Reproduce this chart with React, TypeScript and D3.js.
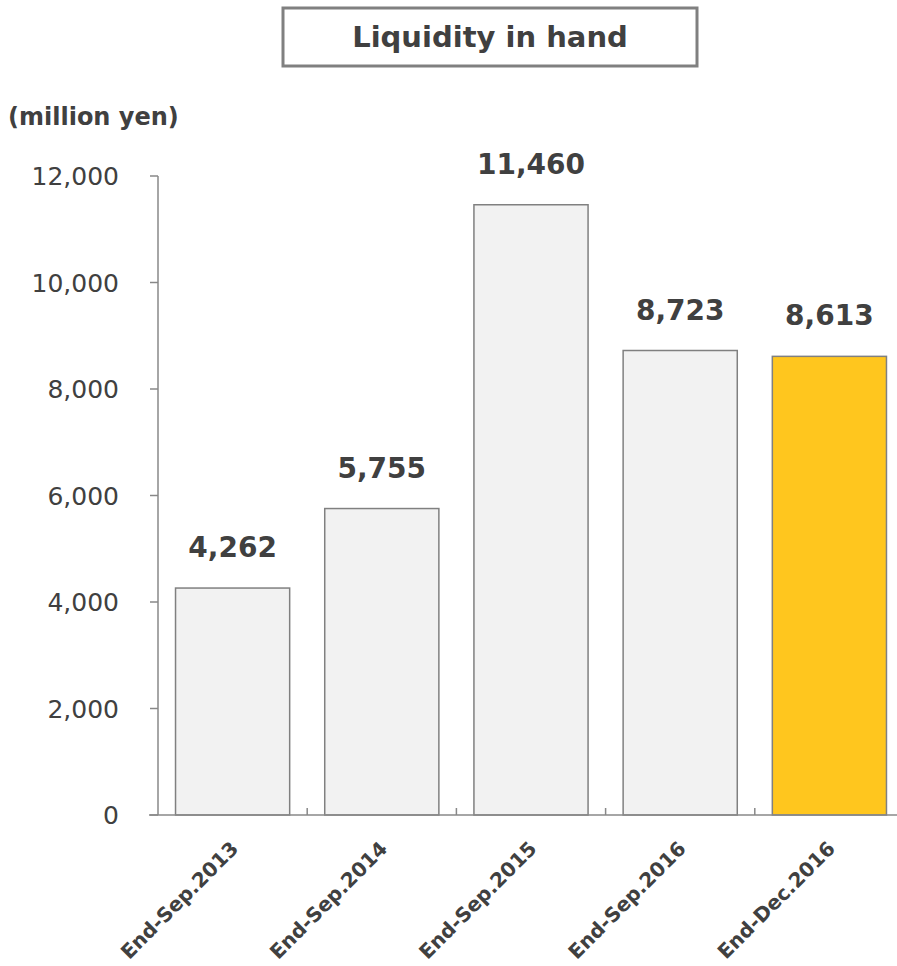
import React from "react";
import * as d3 from "d3";

const categories = ["End-Sep.2013", "End-Sep.2014", "End-Sep.2015", "End-Sep.2016", "End-Dec.2016"];
const values = [4262, 5755, 11460, 8723, 8613];
const yTicks = [0, 2000, 4000, 6000, 8000, 10000, 12000];
const title = "Liquidity in hand";
const unitLabel = "(million yen)";

const W = 897;
const H = 966;
const FONT = "'DejaVu Sans', Verdana, sans-serif";
const TEXT = "#404040";
const AXIS = "#888888";

export default function App() {
  const x = d3.scaleBand<string>().domain(categories).range([158, 904]).paddingInner(0.235).paddingOuter(0.1175);
  const y = d3.scaleLinear().domain([0, 12000]).range([815, 176]);
  const fmt = d3.format(",");
  const step = x.step();

  return (
    <svg width={W} height={H} style={{ position: "absolute", left: 0, top: 0, fontFamily: FONT }}>
      <rect x={0} y={0} width={W} height={H} fill="#fff" />
      {/* title */}
      <rect x={283} y={8} width={414} height={58} fill="#fff" stroke="#808080" strokeWidth={3} />
      <text x={490} y={47} textAnchor="middle" fontSize={29} fontWeight="bold" fill={TEXT}>{title}</text>
      <text x={8} y={125} fontSize={24} fontWeight="bold" fill={TEXT}>{unitLabel}</text>

      {/* y axis */}
      <line x1={158} x2={158} y1={y(12000)} y2={y(0)} stroke={AXIS} strokeWidth={1.5} />
      {yTicks.map((t) => (
        <g key={t}>
          <line x1={150} x2={158} y1={y(t)} y2={y(t)} stroke={AXIS} strokeWidth={1.5} />
          <text x={119} y={y(t)} dy="0.36em" textAnchor="end" fontSize={25} fill={TEXT}>{fmt(t)}</text>
        </g>
      ))}

      {/* bars */}
      {categories.map((c, i) => {
        const bx = x(c)!;
        const by = y(values[i]);
        return (
          <g key={c}>
            <rect x={bx} y={by} width={x.bandwidth()} height={y(0) - by}
              fill={i === categories.length - 1 ? "#ffc61e" : "#f2f2f2"} stroke="#808080" strokeWidth={1.5} />
            <text x={bx + x.bandwidth() / 2} y={by - 31} textAnchor="middle" fontSize={28} fontWeight="bold" fill={TEXT}>
              {fmt(values[i])}
            </text>
          </g>
        );
      })}

      {/* x axis */}
      <line x1={149} x2={W} y1={y(0)} y2={y(0)} stroke={AXIS} strokeWidth={1.5} />
      {categories.slice(1).map((c) => {
        const tx = x(c)! - (step - x.bandwidth()) / 2;
        return <line key={c} x1={tx} x2={tx} y1={y(0) - 7} y2={y(0)} stroke={AXIS} strokeWidth={1.5} />;
      })}
      {categories.map((c) => {
        const cx = x(c)! + x.bandwidth() / 2 - 3;
        const cy = y(0) + 25;
        return (
          <text key={c} transform={`translate(${cx},${cy}) rotate(-45)`} textAnchor="end" dy="0.7em"
            fontSize={20} fontWeight="bold" fill={TEXT}>{c}</text>
        );
      })}
    </svg>
  );
}
